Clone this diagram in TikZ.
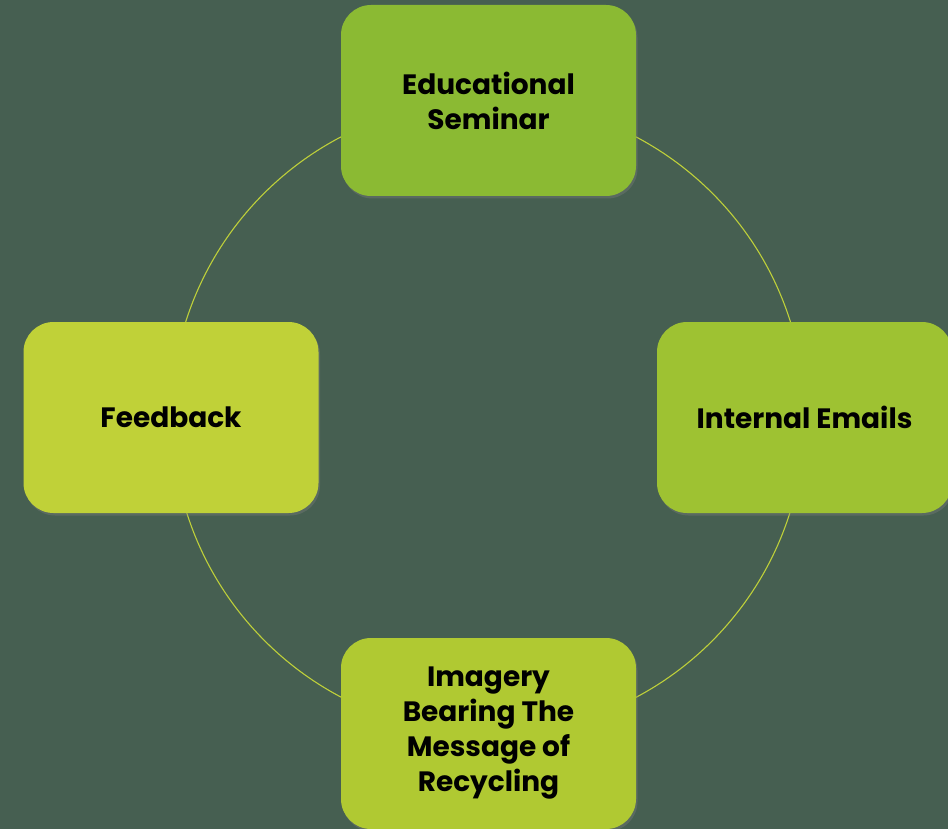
\documentclass[tikz,border=0pt]{standalone}
\usepackage{fontspec}
\setmainfont{Poppins}
\usetikzlibrary{backgrounds,shadows}
\definecolor{BackGreen}{RGB}{70,95,81}
\definecolor{RingGreen}{RGB}{190,208,58}
\definecolor{BoxA}{RGB}{139,186,51}
\definecolor{BoxB}{RGB}{158,194,50}
\definecolor{BoxC}{RGB}{176,201,50}
\definecolor{BoxD}{RGB}{192,209,56}

\begin{document}
\begin{tikzpicture}[x = 1pt, y = -1pt]
\tikzstyle{BoxStyle}=[shape = rectangle,
                      rounded corners = 30pt,
                      minimum width = 295pt,
                      minimum height = 191pt,
                      align = center,
                      font = \fontsize{28}{35}\selectfont\bfseries,
                      drop shadow = {shadow xshift = 1.5pt, shadow yshift = -2.5pt, opacity = 0.35}]
\tikzstyle{RingStyle}=[draw = RingGreen, line width = 1.1pt]
\clip (0, 0) rectangle (948, 829);
\node[BoxStyle, fill = BoxA] (seminar) at (488.5, 100.5) {Educational\\Seminar};
\node[BoxStyle, fill = BoxB] (emails) at (804.5, 417.5) {Internal Emails};
\node[BoxStyle, fill = BoxC] (imagery) at (488.5, 733.5) {Imagery\\Bearing The\\Message of\\Recycling};
\node[BoxStyle, fill = BoxD] (feedback) at (171, 417.5) {Feedback};
% ring behind the boxes (y axis points down, so angles run clockwise)
\begin{scope}[on background layer]
\fill[BackGreen] (0, 0) rectangle (948, 829);
\draw[RingStyle] (seminar.center) arc[start angle = 270, end angle = 360, radius = 316.5];
\draw[RingStyle] (emails.center) arc[start angle = 0, end angle = 90, radius = 316.5];
\draw[RingStyle] (imagery.center) arc[start angle = 90, end angle = 180, radius = 316.5];
\draw[RingStyle] (feedback.center) arc[start angle = 180, end angle = 270, radius = 316.5];
\end{scope}
\end{tikzpicture}
\end{document}
